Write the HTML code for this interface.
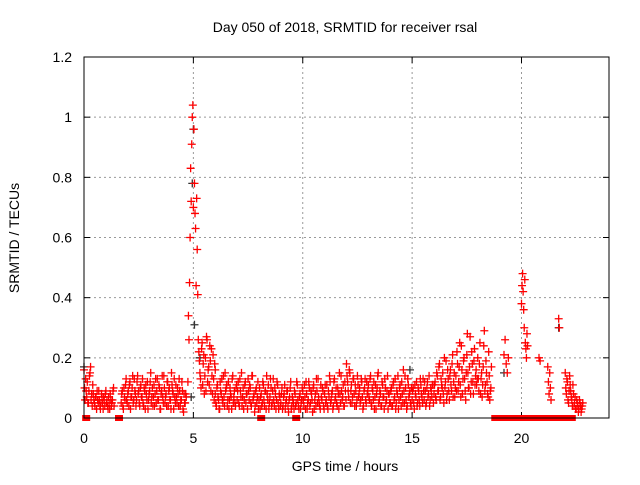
<!DOCTYPE html>
<html><head><meta charset="utf-8"><style>
body{margin:0;background:#fff}
svg text{font-family:"Liberation Sans",sans-serif;font-size:14px;fill:#000}
</style></head><body>
<svg id="chart" width="640" height="480" xmlns="http://www.w3.org/2000/svg">
<rect width="640" height="480" fill="#fff"/>
<text x="345" y="32" text-anchor="middle">Day 050 of 2018, SRMTID for receiver rsal</text>
<text transform="translate(19,238) rotate(-90)" text-anchor="middle">SRMTID / TECUs</text>
<text x="345" y="471" text-anchor="middle">GPS time / hours</text>
<g id="grid"></g>
<g id="ticks"></g>
<g id="grey"></g>
<g id="red"></g>
<rect x="84" y="57" width="525" height="361" fill="none" stroke="#000" stroke-width="1"/>
</svg>
<script>
const xTicks=[0,5,10,15,20];
const yTicks=[0,0.2,0.4,0.6,0.8,1,1.2];
const yTickLabels=["0","0.2","0.4","0.6","0.8","1","1.2"];
const segStart=[0.0,1.7,4.75,5.25,6.0,15.0,19.2,20.0,20.8,21.2,21.7,22.0,
                0.025,1.725,5.275,6.025,15.025,22.025];
const segStep=[0.05,0.05,0.025,0.05,0.05,0.05,0.05,0.025,0.05,0.03,0.03,0.05,
               0.05,0.05,0.05,0.05,0.05,0.05];
const segValues=[
[16,6,9,12,5,14,17,8,11,6,4,7,9,5,6,3,8,5,7,4,9,6,3,5,8,4,6,10],
[5,9,3,7,11,6,8,4,12,7,10,5,13,8,6,14,9,4,11,7,5,10,3,8,12,6,9,15,7,4,11,8,5,13,6,10,3,9,7,14,5,8,12,4,10,6,15,9,3,7,11,5,8,13,4,6,9,2,5,8],
[12,34,26,45,60,83,72,91,100,104,70,96,78,68,63,44,73,56,41,26],
[22,15,10,25,18,8,20,27,12,17,24,9,14,21,6,16],
[8,4,11,6,3,9,13,5,7,15,10,4,12,6,8,3,14,7,5,10,
 6,12,4,9,15,7,3,11,5,8,13,6,10,4,14,7,2,9,5,12,
 6,3,8,5,11,4,9,14,6,3,7,10,5,13,4,8,6,11,3,7,
 5,10,4,8,3,6,9,2,7,12,4,6,3,8,5,11,4,7,3,6,
 9,4,7,12,3,6,10,5,8,2,11,6,4,9,13,5,3,7,10,4,
 8,5,11,3,7,12,6,9,4,13,7,5,10,3,8,14,6,11,4,9,
 18,12,7,15,9,5,13,8,11,4,14,7,10,6,12,3,9,13,5,8,
 11,6,14,4,9,12,7,3,10,15,6,8,4,11,7,13,5,9,3,8,
 5,10,4,12,7,3,9,14,6,11,4,8,16,5,10,3,13,7,9,4],
[6,10,3,8,12,5,9,4,11,7,13,6,9,5,12,8,4,10,7,11,
 8,12,6,14,9,18,7,11,15,5,10,19,8,13,6,16,9,21,12,7,
 14,22,9,17,11,24,8,19,13,6,21,15,10,27,12,18,8,23,14,11,
 20,9,25,13,7,17,29,11,15,8,22,6,10],
[21,26,18,15,20],
[38,44,48,42,36,30,46,25,23,20,28,24],
[20,19],
[17,12,8,15,10,6],
[33,30],
[15,8,12,5,14,9,6,11,4,7,3,5,2,6,4,3,5],
[10,13,7,5,9,15,6,4,8,5,7,3,6,9,4,5,7,3,6,8,5,4,7,3,6,5,9,4],
[8,4,10,6,13,5,9,11,3,7,14,6,9,4,12,8,5,10,7,13,4,9,11,6,3,8,12,5,10,7,4,13,9,6,11,3,8,14,5,10,7,4,12,9,6,3,11,8,13,5,7,10,4,9,6,12,3,8,5,7],
[19,13,23,11,21,14,9,26,16,11,19,23,8,13,18],
[5,10,7,3,12,8,6,14,4,9,11,6,3,10,7,13,5,9,4,11,
 9,5,13,7,4,10,6,12,8,3,9,11,5,14,6,8,4,10,7,3,
 10,7,4,12,6,9,3,8,11,5,13,4,9,6,10,3,12,5,8,4,
 8,3,7,11,5,9,4,6,10,3,7,5,9,4,12,6,3,8,5,10,
 6,11,3,8,5,12,4,9,6,10,3,8,13,5,7,4,11,6,9,3,
 11,6,4,9,14,5,8,3,12,6,10,4,8,15,5,9,7,4,12,6,
 14,9,16,5,11,7,13,4,9,6,11,8,5,13,7,4,10,6,12,9,
 7,13,5,10,6,3,11,8,14,5,9,4,12,7,3,10,6,14,8,5,
 9,4,11,6,13,5,8,3,10,7,12,5,9,14,6,4,11,8,5,10],
[9,5,11,7,4,10,6,13,8,5,9,12,4,10,7,14,6,9,11,5,
 11,7,15,9,17,6,13,10,8,20,12,6,16,9,14,11,18,7,15,10,
 9,18,12,25,7,16,13,20,9,15,28,10,17,8,22,12,19,11,16,13,
 13,18,8,15,11,24,9,19,12,7,14,9,17],
[10,13,6,9,11,7,4,8,5,3,6,4,3,5,2,4]
];
const zeroHours=[0.1,1.6,8.1,9.7,18.8,18.9,19.0,19.1,19.2,19.3,19.4,19.5,19.7,19.8,19.9,20.0,20.1,20.4,20.5,20.6,20.7,20.8,20.9,21.0,21.1,21.3,21.4,21.5,21.6,21.7,21.8,21.9,22.1,22.2,22.3];
const greyHours=[0.0,4.9,4.95,5.0,5.05,5.3,14.9,19.2,21.7];
const greyValues=[0.17,0.07,0.78,0.96,0.31,0.2,0.16,0.15,0.3];

const X0=84,X1=609,Y0=418,Y1=57;
const sx=h=>X0+(h/24)*(X1-X0);
const sy=v=>Y0-(v/1.2)*(Y0-Y1);
const NS="http://www.w3.org/2000/svg";
function mk(tag,attrs,parent){const e=document.createElementNS(NS,tag);for(const k in attrs)e.setAttribute(k,attrs[k]);parent.appendChild(e);return e;}
const grid=document.getElementById('grid'),ticks=document.getElementById('ticks');
xTicks.forEach(t=>{const x=sx(t);
 if(t>0){const g=mk('line',{x1:x,x2:x,y1:Y1,y2:Y0,stroke:'#999','stroke-dasharray':'2,3'},grid);
 
 }
 const a=mk('line',{x1:x,x2:x,y1:Y0,y2:Y0-6,stroke:'#000'},ticks);
 
 
 const b=mk('line',{x1:x,x2:x,y1:Y1,y2:Y1+6,stroke:'#000'},ticks);
 
 
 const l=mk('text',{x:x,y:443,'text-anchor':'middle'},ticks);l.textContent=String(t);
 
 
});
yTicks.forEach((t,i)=>{const y=sy(t);
 if(t>0&&t<1.2){const g=mk('line',{x1:X0,x2:X1,y1:y,y2:y,stroke:'#999','stroke-dasharray':'2,3'},grid);
 
 }
 const a=mk('line',{x1:X0,x2:X0+6,y1:y,y2:y,stroke:'#000'},ticks);
 
 
 const b=mk('line',{x1:X1,x2:X1-6,y1:y,y2:y,stroke:'#000'},ticks);
 
 
 const l=mk('text',{x:72,y:y+5,'text-anchor':'end'},ticks);l.textContent=yTickLabels[i];
 
 
});
function plus(h,v,col,parent){const x=sx(h),y=sy(v);
 const p=mk('path',{d:`M${x-4},${y}h8M${x},${y-4}v8`,stroke:col,'stroke-width':1.3,fill:'none'},parent);
 
 }
const red=document.getElementById('red'),grey=document.getElementById('grey');
greyHours.forEach((h,i)=>plus(h,greyValues[i],'#333',grey));
segValues.forEach((vals,s)=>vals.forEach((v,i)=>plus(segStart[s]+i*segStep[s],v/100,'#f00',red)));
zeroHours.forEach(h=>{const x=sx(h);
 const r=mk('rect',{x:x-4,y:Y0-3,width:8,height:6,fill:'#f00'},red);
 
 });
</script>
</body></html>
